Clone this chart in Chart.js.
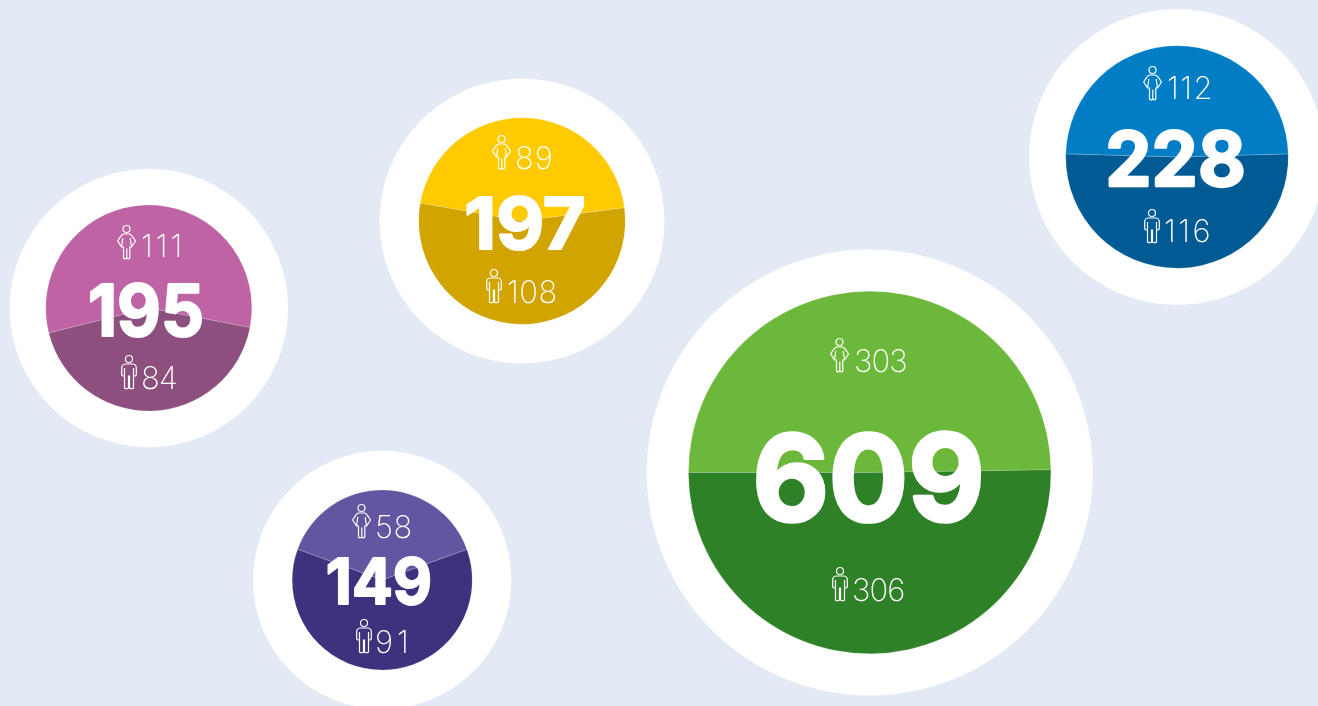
<!DOCTYPE html>
<html>
<head>
<meta charset="utf-8">
<script src="https://cdn.jsdelivr.net/npm/chart.js@4"></script>
<style>
  html, body { margin: 0; height: 100%; overflow: hidden; background: #e3e9f5; }
  canvas { position: absolute; }
</style>
</head>
<body>
<script>
const totals = [195, 197, 149, 609, 228];
const women = [111, 89, 58, 303, 112];
const men = [84, 108, 91, 306, 116];

const topColors = ['#be64a4', '#ffcb00', '#63559f', '#6cb83b', '#007dc5'];
const bottomColors = ['#8d4f7d', '#d1a400', '#3e327e', '#2f8128', '#005b94'];

// page layout of each pie: centre, radius, white ring radius, start angle,
// squeeze = horizontal scale of the big number, gaps = letter spacing of the small ones
const layouts = [
  { cx: 148.8, cy: 308, r: 103.3, ring: 139.2, rotation: -104, size: 71, squeeze: 0.95, gaps: [3, -1], total: [146, 336], woman: [117, 225, 141, 257], man: [121, 355, 141, 389] },
  { cx: 522, cy: 221, r: 103.5, ring: 142.5, rotation: -80, size: 71, squeeze: 1.04, gaps: [1, 0.5], total: [525, 248.5], woman: [492, 135, 515, 169], man: [486, 269, 507, 303] },
  { cx: 382.2, cy: 580, r: 90.3, ring: 129.2, rotation: -70, size: 63, squeeze: 0.96, gaps: [0.5, 4], total: [379, 604], woman: [352, 504, 375, 538], man: [356, 619, 375, 653] },
  { cx: 869.7, cy: 472.5, r: 181.5, ring: 223, rotation: -90, size: 120, squeeze: 0.98, gaps: [-1, -1], total: [868.5, 520.5], woman: [830, 338, 854, 372], man: [832, 567, 852, 601] },
  { cx: 1177, cy: 157, r: 111.5, ring: 148, rotation: -88.4, size: 75, squeeze: 0.98, gaps: [1.5, 2.5], total: [1175.5, 186], woman: [1143, 66, 1167, 99], man: [1144, 209, 1164, 242] }
];

function drawWoman(ctx, x, y) {
  ctx.save();
  ctx.translate(x, y);
  ctx.beginPath();
  ctx.arc(9.5, 4, 3.5, 0, Math.PI * 2);
  ctx.moveTo(6.5, 9);
  ctx.lineTo(12.5, 9);
  ctx.quadraticCurveTo(15, 10, 18.5, 16);
  ctx.lineTo(14.5, 22);
  ctx.lineTo(12.8, 22);
  ctx.lineTo(12.8, 33);
  ctx.quadraticCurveTo(11.3, 34.5, 9.8, 33);
  ctx.lineTo(9.8, 23.5);
  ctx.lineTo(9.8, 33);
  ctx.quadraticCurveTo(8, 34.5, 6.5, 33);
  ctx.lineTo(6.5, 22);
  ctx.lineTo(4.5, 22);
  ctx.lineTo(0.7, 16);
  ctx.quadraticCurveTo(4, 10, 6.5, 9);
  ctx.moveTo(5.8, 13);
  ctx.lineTo(4.5, 22);
  ctx.moveTo(13.2, 13);
  ctx.lineTo(14.5, 22);
  ctx.stroke();
  ctx.restore();
}

function drawMan(ctx, x, y) {
  ctx.save();
  ctx.translate(x, y);
  ctx.beginPath();
  ctx.arc(8, 4, 3.5, 0, Math.PI * 2);
  ctx.moveTo(4, 9);
  ctx.lineTo(12, 9);
  ctx.quadraticCurveTo(15.3, 9.5, 15.3, 13);
  ctx.lineTo(15.3, 20);
  ctx.quadraticCurveTo(14, 22, 12.5, 20);
  ctx.lineTo(12.5, 33);
  ctx.quadraticCurveTo(10.5, 34.5, 8.5, 33);
  ctx.lineTo(8.5, 21);
  ctx.lineTo(7.5, 21);
  ctx.lineTo(7.5, 33);
  ctx.quadraticCurveTo(5.5, 34.5, 3.5, 33);
  ctx.lineTo(3.5, 20);
  ctx.quadraticCurveTo(2, 22, 0.7, 20);
  ctx.lineTo(0.7, 13);
  ctx.quadraticCurveTo(0.7, 9.5, 4, 9);
  ctx.moveTo(3.5, 20);
  ctx.lineTo(3.5, 13);
  ctx.moveTo(12.5, 20);
  ctx.lineTo(12.5, 13);
  ctx.stroke();
  ctx.restore();
}

const whiteRing = {
  id: 'whiteRing',
  beforeDraw(chart) {
    const o = chart.options.plugins.whiteRing;
    const ctx = chart.ctx;
    ctx.save();
    ctx.fillStyle = '#ffffff';
    ctx.beginPath();
    ctx.arc(o.cx - o.left, o.cy - o.top, o.ring, 0, Math.PI * 2);
    ctx.fill();
    ctx.restore();
  }
};

const pieLabels = {
  id: 'pieLabels',
  afterDraw(chart) {
    const o = chart.options.plugins.pieLabels;
    const ctx = chart.ctx;
    ctx.save();
    ctx.translate(-o.left, -o.top);
    ctx.fillStyle = '#ffffff';
    ctx.strokeStyle = '#ffffff';
    ctx.textBaseline = 'alphabetic';

    // the original digits have soft corners, a round stroke gets close
    ctx.save();
    ctx.translate(o.total[0], o.total[1]);
    ctx.scale(o.squeeze, 1);
    ctx.font = '700 ' + o.size + 'px Inter';
    ctx.textAlign = 'center';
    ctx.lineJoin = 'round';
    ctx.lineWidth = o.size * 0.03;
    ctx.fillText(o.totalText, 0, 0);
    ctx.strokeText(o.totalText, 0, 0);
    ctx.restore();

    ctx.font = '200 31px Inter';
    ctx.textAlign = 'left';
    ctx.letterSpacing = o.gaps[0] + 'px';
    ctx.fillText(o.womanText, o.woman[2], o.woman[3]);
    ctx.letterSpacing = o.gaps[1] + 'px';
    ctx.fillText(o.manText, o.man[2], o.man[3]);

    ctx.lineWidth = 1.2;
    ctx.lineJoin = 'miter';
    drawWoman(ctx, o.woman[0], o.woman[1]);
    drawMan(ctx, o.man[0], o.man[1]);
    ctx.restore();
  }
};

layouts.forEach((l, i) => {
  const left = Math.floor(l.cx - l.ring);
  const top = Math.floor(l.cy - l.ring);
  const side = Math.ceil(l.ring * 2) + 2;

  const canvas = document.createElement('canvas');
  canvas.width = side;
  canvas.height = side;
  canvas.style.left = left + 'px';
  canvas.style.top = top + 'px';
  document.body.appendChild(canvas);

  new Chart(canvas, {
    type: 'pie',
    data: {
      labels: ['Women', 'Men'],
      datasets: [{
        data: [women[i], men[i]],
        backgroundColor: [topColors[i], bottomColors[i]],
        borderColor: 'rgba(255,255,255,0.35)',
        borderWidth: 0.5
      }]
    },
    plugins: [whiteRing, pieLabels],
    options: {
      responsive: false,
      animation: false,
      rotation: l.rotation,
      layout: {
        padding: {
          left: l.cx - l.r - left,
          top: l.cy - l.r - top,
          right: side - (l.cx + l.r - left),
          bottom: side - (l.cy + l.r - top)
        }
      },
      plugins: {
        legend: { display: false },
        tooltip: { enabled: false },
        whiteRing: { cx: l.cx, cy: l.cy, ring: l.ring, left: left, top: top },
        pieLabels: {
          left: left, top: top, size: l.size, squeeze: l.squeeze, gaps: l.gaps,
          total: l.total, woman: l.woman, man: l.man,
          totalText: String(totals[i]),
          womanText: String(women[i]),
          manText: String(men[i])
        }
      }
    }
  });
});
</script>
</body>
</html>
